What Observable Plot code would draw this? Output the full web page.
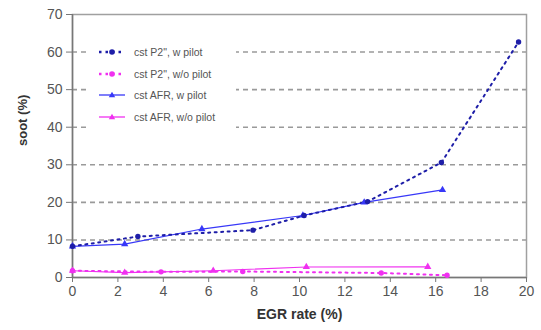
<!DOCTYPE html>
<html>
<head>
<meta charset="utf-8">
<script src="https://cdn.jsdelivr.net/npm/d3@7"></script>
<script src="https://cdn.jsdelivr.net/npm/@observablehq/plot@0.6"></script>
<style>
  html, body { margin: 0; padding: 0; background: white; }
  #wrap { position: relative; width: 541px; height: 330px; font-family: "Liberation Sans", Arial, sans-serif; }
  #legend { position: absolute; left: 88px; top: 40px; width: 148px; height: 88px; background: white; }
  .item { position: absolute; left: 0; height: 14px; display: flex; align-items: center; }
  .item svg { width: 28px; height: 14px; margin-left: 10px; }
  .item span { font-size: 10.5px; color: #555; margin-left: 8px; white-space: nowrap; }
</style>
</head>
<body>
<div id="wrap"><div id="legend"></div></div>
<script>
// ---- data ----
const seriesNames = ["cst P2\", w pilot", "cst P2\", w/o pilot", "cst AFR, w pilot", "cst AFR, w/o pilot"];
const seriesColors = ["#1e1ea8", "#f030f0", "#3838f8", "#f030f0"];

const p2W_x = [0, 2.88, 7.95, 10.2, 13.0, 16.25, 19.65];
const p2W_y = [8.3, 10.9, 12.6, 16.5, 20.2, 30.6, 62.7];

const p2Wo_x = [0, 3.9, 7.5, 13.6, 16.5];
const p2Wo_y = [1.8, 1.5, 1.6, 1.2, 0.6];

const afrW_x = [0, 2.3, 5.7, 10.15, 12.85, 16.3];
const afrW_y = [8.3, 8.9, 12.9, 16.5, 20.0, 23.3];

const afrWo_x = [0, 2.3, 6.2, 10.3, 15.65];
const afrWo_y = [1.8, 1.3, 1.8, 2.8, 2.85];

const xTicks = [0, 2, 4, 6, 8, 10, 12, 14, 16, 18, 20];
const yTicks = [0, 10, 20, 30, 40, 50, 60, 70];
const gridY = [10, 20, 30, 40, 50, 60];

const xLabel = "EGR rate (%)";
const yLabel = "soot (%)";

// ---- build ----
const toRows = (xs, ys) => xs.map((x, i) => ({x, y: ys[i]}));
const p2W = toRows(p2W_x, p2W_y);
const p2Wo = toRows(p2Wo_x, p2Wo_y);
const afrW = toRows(afrW_x, afrW_y);
const afrWo = toRows(afrWo_x, afrWo_y);

const dotted = "2,4.5";

const chart = Plot.plot({
  width: 541,
  height: 330,
  marginLeft: 72,
  marginRight: 15,
  marginTop: 14,
  marginBottom: 53,
  x: {domain: [0, 20]},
  y: {domain: [0, 70]},
  style: {fontFamily: "Liberation Sans, Arial, sans-serif", fontSize: "14px", color: "#555", background: "white"},
  marks: [
    Plot.ruleY(gridY, {stroke: "#9a9a9a", strokeWidth: 1.6, strokeDasharray: "5,4"}),
    Plot.frame({stroke: "#a0a0a0", strokeWidth: 1.5}),
    Plot.ruleY([0], {stroke: "#777", strokeWidth: 1.5}),
    Plot.ruleX([0], {stroke: "#777", strokeWidth: 1.5}),
    Plot.axisX({ticks: xTicks, tickSize: 5, tickPadding: 4, label: null, stroke: "#777", fill: "#555"}),
    Plot.axisY({ticks: yTicks, tickSize: 6, tickPadding: 4, label: null, stroke: "#777", fill: "#555"}),
    // lines
    Plot.line(afrWo, {x: "x", y: "y", stroke: seriesColors[3], strokeWidth: 1.2}),
    Plot.line(p2Wo, {x: "x", y: "y", stroke: seriesColors[1], strokeWidth: 2, strokeDasharray: dotted}),
    Plot.line(afrW, {x: "x", y: "y", stroke: seriesColors[2], strokeWidth: 1.2}),
    Plot.line(p2W, {x: "x", y: "y", stroke: seriesColors[0], strokeWidth: 2, strokeDasharray: dotted}),
    // markers
    Plot.dot(afrWo, {x: "x", y: "y", symbol: "triangle", r: 2.7, fill: seriesColors[3]}),
    Plot.dot(p2Wo, {x: "x", y: "y", symbol: "circle", r: 2.7, fill: seriesColors[1]}),
    Plot.dot(afrW, {x: "x", y: "y", symbol: "triangle", r: 2.7, fill: seriesColors[2]}),
    Plot.dot(p2W, {x: "x", y: "y", symbol: "circle", r: 2.7, fill: seriesColors[0]}),
    // axis titles
    Plot.text([xLabel], {frameAnchor: "bottom", dy: 41, fontWeight: "bold", fontSize: 14, fill: "#333"}),
    Plot.text([yLabel], {frameAnchor: "left", dx: -50, rotate: -90, fontWeight: "bold", fontSize: 13, fill: "#333"})
  ]
});

const wrap = document.getElementById("wrap");
wrap.insertBefore(chart, wrap.firstChild);

// legend (HTML)
const legend = document.getElementById("legend");
const styles = [
  {dash: true, sym: "circle"},
  {dash: true, sym: "circle"},
  {dash: false, sym: "triangle"},
  {dash: false, sym: "triangle"}
];
seriesNames.forEach((name, i) => {
  const item = document.createElement("div");
  item.className = "item";
  item.style.top = (5 + i * 21.5) + "px";
  const c = seriesColors[i];
  const st = styles[i];
  const line = st.dash
    ? `<line x1="1" y1="7" x2="27" y2="7" stroke="${c}" stroke-width="2.5" stroke-dasharray="2.5,4"/>`
    : `<line x1="1" y1="7" x2="27" y2="7" stroke="${c}" stroke-width="1.3"/>`;
  const sym = st.sym === "circle"
    ? `<circle cx="14" cy="7" r="2.8" fill="${c}"/>`
    : `<path d="M14,3.8 L17.2,9.3 L10.8,9.3 Z" fill="${c}"/>`;
  item.innerHTML = `<svg viewBox="0 0 28 14">${line}${sym}</svg><span>${name.replace(/&/g,"&amp;").replace(/</g,"&lt;")}</span>`;
  legend.appendChild(item);
});
</script>
</body>
</html>
